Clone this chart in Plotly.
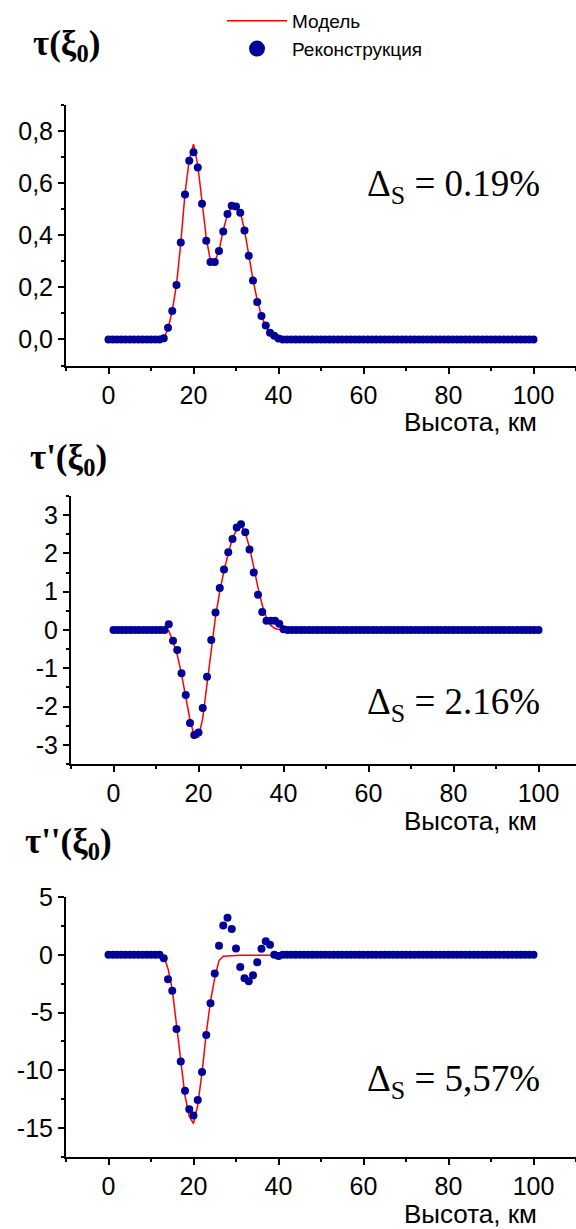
import plotly.graph_objects as go

W, H = 576, 1229

# ---------------- data ----------------
heights = list(range(0, 101))  # km, step 1

# panel 1: tau(xi0), values for 13..40 km (zeros elsewhere)
tau_model_core = [0.005, 0.04, 0.11, 0.21, 0.37, 0.56, 0.69, 0.75, 0.67, 0.53, 0.39, 0.30, 0.30, 0.34,
                  0.42, 0.48, 0.51, 0.51, 0.49, 0.42, 0.32, 0.23, 0.15, 0.09, 0.05, 0.025, 0.01, 0.003]
tau_rec_core = [0.005, 0.045, 0.109, 0.209, 0.372, 0.556, 0.686, 0.719, 0.660, 0.521, 0.379, 0.297, 0.297, 0.340,
                0.414, 0.482, 0.513, 0.510, 0.486, 0.418, 0.321, 0.226, 0.144, 0.090, 0.054, 0.026, 0.014, 0.004]

# panel 2: tau'(xi0)
d1_model_core = [-0.02, -0.30, -0.65, -1.15, -1.75, -2.35, -2.75, -2.80, -2.30, -1.40, -0.45, 0.35, 1.00, 1.55,
                 2.00, 2.40, 2.62, 2.72, 2.55, 2.15, 1.65, 1.10, 0.65, 0.32, 0.12, 0.04, 0.01, 0.0]
d1_rec_core = [0.15, -0.28, -0.52, -1.13, -1.70, -2.43, -2.74, -2.68, -2.04, -1.22, -0.26, 0.46, 1.10, 1.58,
               2.03, 2.38, 2.68, 2.76, 2.55, 2.10, 1.50, 0.92, 0.47, 0.24, 0.24, 0.24, 0.16, 0.02]

# panel 3: tau''(xi0)
d2_model_core = [-0.10, -1.20, -3.00, -6.00, -9.30, -12.20, -14.00, -14.60, -13.00, -10.20, -6.80, -4.00, -2.00, -0.50,
                 -0.12, -0.08, -0.07, -0.06, -0.05, -0.05, -0.05, -0.05, -0.05, -0.05, -0.04, -0.03, 0.0, 0.0]
d2_rec_core = [-0.29, -2.12, -3.11, -6.42, -9.24, -11.77, -13.37, -13.90, -12.56, -10.15, -6.95, -4.19, -1.63, 0.78,
               2.53, 3.20, 2.24, 0.55, -1.05, -2.03, -2.30, -1.77, -0.64, 0.52, 1.16, 0.87, 0.0, -0.10]

core_start = 13
lead = [0.0] * core_start
trail = [0.0] * (101 - core_start - 28)

tau_model = lead + tau_model_core + trail
tau_rec = lead + tau_rec_core + trail
d1_model = lead + d1_model_core + trail
d1_rec = lead + d1_rec_core + trail
d2_model = lead + d2_model_core + trail
d2_rec = lead + d2_rec_core + trail

x_tickvals = [0, 20, 40, 60, 80, 100]
x_ticktext = ["0", "20", "40", "60", "80", "100"]
y1_tickvals = [0.0, 0.2, 0.4, 0.6, 0.8]
y1_ticktext = ["0,0", "0,2", "0,4", "0,6", "0,8"]
y2_tickvals = [-3, -2, -1, 0, 1, 2, 3]
y2_ticktext = ["-3", "-2", "-1", "0", "1", "2", "3"]
y3_tickvals = [-15, -10, -5, 0, 5]
y3_ticktext = ["-15", "-10", "-5", "0", "5"]

legend_labels = ["Модель", "Реконструкция"]
panel_titles = ["<b>τ(ξ<sub>0</sub>)</b>", "<b>τ'(ξ<sub>0</sub>)</b>", "<b>τ''(ξ<sub>0</sub>)</b>"]
delta_texts = ["Δ<sub>S</sub> = 0.19%", "Δ<sub>S</sub> = 2.16%", "Δ<sub>S</sub> = 5,57%"]
x_title = "Высота, км"

# ---------------- styling ----------------
RED = "#ff0000"
BLUE = "#000099"
SANS = "Liberation Sans, Arial, sans-serif"
SERIF = "Liberation Serif, Times New Roman, serif"


def px(x):
    return x / W


def py(y):
    return 1 - y / H


fig = go.Figure()

panels = [
    (tau_model, tau_rec, "x", "y"),
    (d1_model, d1_rec, "x2", "y2"),
    (d2_model, d2_rec, "x3", "y3"),
]
for i, (m, r, xa, ya) in enumerate(panels):
    fig.add_trace(go.Scatter(x=heights, y=m, mode="lines", line=dict(color=RED, width=1.5),
                             xaxis=xa, yaxis=ya, showlegend=False, hoverinfo="skip"))
    fig.add_trace(go.Scatter(x=heights, y=r, mode="markers",
                             marker=dict(color=BLUE, size=8, line=dict(width=0)),
                             xaxis=xa, yaxis=ya, showlegend=False))

# legend-only entries
fig.add_trace(go.Scatter(x=[None], y=[None], mode="lines", line=dict(color=RED, width=1.5),
                         name=legend_labels[0], showlegend=True))
fig.add_trace(go.Scatter(x=[None], y=[None], mode="markers", marker=dict(color=BLUE, size=18),
                         name=legend_labels[1], showlegend=True))

axis_common = dict(showline=True, linecolor="black", linewidth=2, ticks="outside", ticklen=6,
                   tickwidth=2, tickcolor="black", showgrid=False, zeroline=False, automargin=False,
                   tickfont=dict(family=SANS, size=25, color="black"))

# geometry (pixels)
panel_px = [
    dict(x0=66, y0=105, y1=365.5, yr=[-0.1, 0.9], tv=y1_tickvals, tt=y1_ticktext, minor=0.1, m0=-0.1),
    dict(x0=71, y0=496, y1=764, yr=[-3.5, 3.5], tv=y2_tickvals, tt=y2_ticktext, minor=0.5, m0=-3.5),
    dict(x0=66, y0=897, y1=1157, yr=[-17.5, 5], tv=y3_tickvals, tt=y3_ticktext, minor=2.5, m0=-17.5),
]
km_px = 4.25
layout_axes = {}
for i, p in enumerate(panel_px):
    sfx = "" if i == 0 else str(i + 1)
    xr = [-10, -10 + (W - p["x0"]) / km_px]
    layout_axes["xaxis" + sfx] = dict(
        axis_common, domain=[px(p["x0"]), 1.0], range=xr, tickmode="array",
        tickvals=x_tickvals, ticktext=x_ticktext, anchor="y" + sfx,
        minor=dict(ticks="outside", ticklen=3, tickwidth=1.5, tickcolor="black", tick0=-10, dtick=10),
    )
    layout_axes["yaxis" + sfx] = dict(
        axis_common, domain=[py(p["y1"]), py(p["y0"])], range=p["yr"], tickmode="array",
        tickvals=p["tv"], ticktext=p["tt"], anchor="x" + sfx,
        minor=dict(ticks="outside", ticklen=3, tickwidth=1.5, tickcolor="black", tick0=p["m0"], dtick=p["minor"]),
    )

annotations = []
title_pos = [(31, 46), (28, 459), (23, 843)]
for t, (xx, yy) in zip(panel_titles, title_pos):
    annotations.append(dict(text=t, x=px(xx), y=py(yy), xref="paper", yref="paper", xanchor="left",
                            yanchor="middle", showarrow=False, font=dict(family=SERIF, size=35, color="black")))
delta_pos = [(542, 186), (542, 704), (542, 1081)]
for t, (xx, yy) in zip(delta_texts, delta_pos):
    annotations.append(dict(text=t, x=px(xx), y=py(yy), xref="paper", yref="paper", xanchor="right",
                            yanchor="middle", showarrow=False, font=dict(family=SERIF, size=37, color="black")))
xtitle_pos = [(470, 422), (470, 821), (470, 1214)]
for xx, yy in xtitle_pos:
    annotations.append(dict(text=x_title, x=px(xx), y=py(yy), xref="paper", yref="paper", xanchor="center",
                            yanchor="middle", showarrow=False, font=dict(family=SANS, size=26, color="black")))

fig.update_layout(
    width=W, height=H, margin=dict(l=0, r=0, t=0, b=0, pad=0, autoexpand=False),
    paper_bgcolor="white", plot_bgcolor="white",
    showlegend=True,
    legend=dict(x=px(222), y=py(2), xanchor="left", yanchor="top", bgcolor="rgba(0,0,0,0)",
                font=dict(family=SANS, size=19, color="black"), itemwidth=60, tracegroupgap=0),
    annotations=annotations,
    **layout_axes,
)

fig.write_html("out.html")
